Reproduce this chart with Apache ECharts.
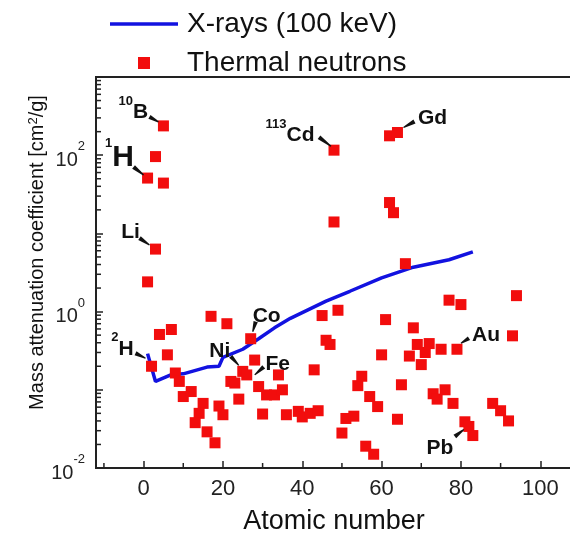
<!DOCTYPE html>
<html>
<head>
<meta charset="utf-8">
<script src="https://cdn.jsdelivr.net/npm/echarts@6/dist/echarts.min.js"></script>
<style>
  html, body { margin: 0; padding: 0; background: #fff; }
  #chart { width: 570px; height: 537px; }
</style>
</head>
<body>
<div id="chart"></div>
<script>
const FONT = '"Liberation Sans", Arial, sans-serif'

// X-rays at 100 keV
const xrayZ = [1, 3, 7, 10, 16, 19, 20, 25, 29, 33, 37, 46, 52, 60, 68, 77, 83]
const xrayMu = [0.29, 0.128, 0.156, 0.16, 0.195, 0.2, 0.26, 0.33, 0.45, 0.62, 0.82, 1.36, 1.82, 2.7, 3.7, 4.6, 5.8]

// thermal neutrons (one value per square)
const neutronZ = [
  5, 3, 1, 5, 3, 1, 2, 4, 7, 6, 8, 9, 10, 12, 15, 14, 13, 16, 18, 17,
  21, 19, 20, 22, 23, 24, 25, 26, 27, 28, 29, 30, 31, 33, 34, 35, 36, 39, 40, 42,
  44, 43, 45, 46, 47, 49, 48, 48, 50, 51, 53, 54, 55, 56, 57, 58, 59, 60, 61, 62,
  62, 63, 64, 64, 65, 66, 67, 68, 69, 70, 71, 72, 73, 74, 75, 76, 77, 78, 79, 80,
  81, 82, 83, 88, 90, 92, 93, 94
]
const neutronMu = [
  237, 96, 51, 44, 6.3, 2.4, 0.2, 0.51, 0.59, 0.28, 0.164, 0.128, 0.082, 0.095, 0.067, 0.05, 0.038, 0.029, 0.021, 0.87,
  0.7, 0.062, 0.048, 0.128, 0.122, 0.076, 0.172, 0.155, 0.45, 0.24, 0.11, 0.049, 0.086, 0.086, 0.155, 0.1, 0.048, 0.053, 0.045, 0.05,
  0.054, 0.18, 0.89, 0.43, 0.38, 1.04, 116, 14, 0.028, 0.043, 0.046, 0.113, 0.149, 0.019, 0.082, 0.015, 0.061, 0.28, 0.79, 177,
  24.8, 18.4, 195, 0.042, 0.116, 4.1, 0.27, 0.62, 0.38, 0.21, 0.3, 0.39, 0.089, 0.076, 0.33, 0.1, 1.4, 0.067, 0.33, 1.23,
  0.039, 0.034, 0.026, 0.067, 0.054, 0.04, 0.49, 1.6
]

// labelled elements
const annZ = [5, 1, 3, 48, 64, 2, 25, 27, 26, 79, 82]
const annMu = [237, 51, 6.3, 116, 195, 0.2, 0.172, 0.45, 0.155, 0.33, 0.034]
const annText = [
  '{s|10}{b|B}', '{s|1}{h|H}', '{b|Li}', '{s|113}{b|Cd}', '{b|Gd}', '{s|2}{b|H}',
  '{b|Ni}', '{b|Co}', '{b|Fe}', '{b|Au}', '{b|Pb}'
]
// pixel offsets from the point: text centre, leader start, leader end
const annLayout = [
  [-30, -17, -14, -9, -5, -4],
  [-28, -23, -14, -11, -4, -3],
  [-25, -20, -16, -11, -6, -4],
  [-44, -18, -15, -13, -3, -4],
  [35, -18, 17, -11, 6, -5],
  [-29, -21, -16, -13, -6, -8],
  [-23, -24, -12, -15, -4, -6],
  [16, -26, 5, -17, 2, -7],
  [31, -14, 17, -8, 8, 0],
  [29, -18, 12, -11, 4, -6],
  [-29, 18, -14, 10, -5, 3]
]

const xMin = -12
const xMax = 108
const yMin = 0.01
const yMax = 1000
const xTicks = [0, 20, 40, 60, 80, 100]
const xMinorTicks = [-10, 10, 30, 50, 70, 90]
const yTicks = [0.01, 0.1, 1, 10, 100, 1000]
const yLabelTicks = [0.01, 1, 100]
const yMinorMantissa = [2, 3, 4, 5, 6, 7, 8, 9]

const yMinorTicks = []
yTicks.slice(0, -1).forEach((d) => {
  yMinorMantissa.forEach((m) => yMinorTicks.push(+(d * m).toPrecision(3)))
})

const annRich = {
  b: { fontFamily: FONT, fontSize: 21, fontWeight: 'bold', color: '#111', lineHeight: 28, verticalAlign: 'bottom' },
  h: { fontFamily: FONT, fontSize: 30, fontWeight: 'bold', color: '#111', lineHeight: 36, verticalAlign: 'bottom' },
  s: { fontFamily: FONT, fontSize: 13, fontWeight: 'bold', color: '#111', lineHeight: 12, verticalAlign: 'top' }
}

// short minor tick drawn inward from an axis, placed through the axis scales
const tickSeries = (values, isX) => ({
  type: 'custom',
  silent: true,
  clip: false,
  data: values.map((v) => (isX ? [v, yMin] : [xMin, v])),
  z: 10,
  renderItem: (params, api) => {
    const p = api.coord([api.value(0), api.value(1)])
    return {
      type: 'line',
      shape: isX
        ? { x1: p[0], y1: p[1], x2: p[0], y2: p[1] - 5 }
        : { x1: p[0], y1: p[1], x2: p[0] + 5, y2: p[1] },
      style: { stroke: '#222', lineWidth: 1.5 }
    }
  }
})

const myChart = echarts.init(document.getElementById('chart'))

const option = {
  animation: false,
  backgroundColor: '#fff',
  legend: {
    data: [
      { name: 'X-rays (100 keV)', icon: 'path://M0,0H68V3.5H0Z' },
      { name: 'Thermal neutrons', icon: 'path://M0,0H10V10H0Z' }
    ],
    orient: 'vertical',
    left: 105,
    top: 4,
    itemWidth: 68,
    itemHeight: 12,
    itemGap: 9,
    textStyle: {
      fontFamily: FONT,
      fontSize: 28,
      color: '#111',
      lineHeight: 30,
      padding: [0, 0, 0, 4]
    }
  },
  grid: {
    left: 96,
    right: -2,
    top: 77,
    bottom: 69,
    outerBoundsMode: 'none',
    containLabel: false,
    show: true,
    borderColor: '#222',
    borderWidth: 2
  },
  xAxis: {
    type: 'value',
    min: xMin,
    max: xMax,
    name: 'Atomic number',
    nameLocation: 'middle',
    nameGap: 40,
    nameMoveOverlap: false,
    nameTextStyle: { fontFamily: FONT, fontSize: 27, color: '#111' },
    axisLine: { onZero: false, lineStyle: { color: '#222', width: 2 } },
    axisTick: { inside: true, length: 7, customValues: xTicks, lineStyle: { color: '#222', width: 1.5 } },
    axisLabel: { customValues: xTicks, fontFamily: FONT, fontSize: 22, color: '#222', margin: 10 },
    splitLine: { show: false }
  },
  yAxis: {
    type: 'log',
    logBase: 10,
    min: yMin,
    max: yMax,
    position: 'left',
    name: 'Mass attenuation coefficient [cm{s|2}/g]',
    nameLocation: 'middle',
    nameGap: 49,
    nameMoveOverlap: false,
    nameRotate: 90,
    nameTextStyle: {
      fontFamily: FONT,
      fontSize: 20,
      color: '#111',
      padding: [0, 0, 0, 40],
      rich: { s: { fontFamily: FONT, fontSize: 13, color: '#111', verticalAlign: 'top', lineHeight: 10 } }
    },
    axisLine: { onZero: false, lineStyle: { color: '#222', width: 2 } },
    axisTick: { inside: true, length: 7, customValues: yTicks, lineStyle: { color: '#222', width: 1.5 } },
    axisLabel: {
      customValues: yLabelTicks,
      margin: 11,
      formatter: (v) => '{b|10}{s|' + Math.round(Math.log10(v)) + '}',
      rich: {
        b: { fontFamily: FONT, fontSize: 20, color: '#222', lineHeight: 30, verticalAlign: 'bottom' },
        s: { fontFamily: FONT, fontSize: 13, color: '#222', lineHeight: 12, verticalAlign: 'top' }
      }
    },
    splitLine: { show: false }
  },
  series: [
    {
      name: 'X-rays (100 keV)',
      type: 'line',
      data: xrayZ.map((z, i) => [z, xrayMu[i]]),
      showSymbol: false,
      symbol: 'none',
      lineStyle: { color: '#1212e0', width: 3.5 },
      itemStyle: { color: '#1212e0' },
      z: 2
    },
    {
      name: 'Thermal neutrons',
      type: 'scatter',
      data: neutronZ.map((z, i) => [z, neutronMu[i]]),
      symbol: 'rect',
      symbolSize: 11,
      itemStyle: { color: '#f20d0d', opacity: 1 },
      z: 3
    },
    tickSeries(xMinorTicks, true),
    tickSeries(yMinorTicks, false),
    {
      name: 'labels',
      type: 'custom',
      silent: true,
      data: annZ.map((z, i) => [z, annMu[i]]),
      z: 4,
      renderItem: (params, api) => {
        const i = params.dataIndex
        const p = api.coord([api.value(0), api.value(1)])
        const L = annLayout[i]
        const sx = p[0] + L[2]
        const sy = p[1] + L[3]
        const ex = p[0] + L[4]
        const ey = p[1] + L[5]
        const len = Math.hypot(ex - sx, ey - sy) || 1
        const nx = -(ey - sy) / len
        const ny = (ex - sx) / len
        return {
          type: 'group',
          children: [
            {
              type: 'polygon',
              shape: {
                points: [
                  [sx + nx * 2.2, sy + ny * 2.2],
                  [ex + nx * 0.6, ey + ny * 0.6],
                  [ex - nx * 0.6, ey - ny * 0.6],
                  [sx - nx * 2.2, sy - ny * 2.2]
                ]
              },
              style: { fill: '#111' }
            },
            {
              type: 'text',
              x: p[0] + L[0],
              y: p[1] + L[1],
              style: {
                text: annText[i],
                rich: annRich,
                align: 'center',
                verticalAlign: 'middle',
                fill: '#111'
              }
            }
          ]
        }
      }
    }
  ]
}

myChart.setOption(option)
</script>
</body>
</html>
